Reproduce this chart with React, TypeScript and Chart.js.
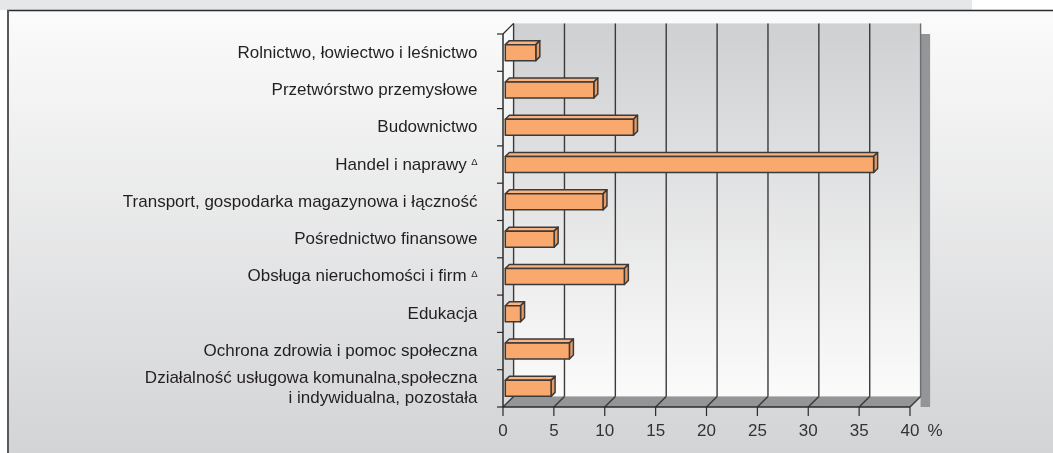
import React, { useEffect, useRef } from "react";
import { Chart, registerables } from "chart.js";

Chart.register(...registerables);

// ---- data ----
const CATEGORIES: (string | string[])[] = [
  "Rolnictwo, łowiectwo i leśnictwo",
  "Przetwórstwo przemysłowe",
  "Budownictwo",
  "Handel i naprawy",
  "Transport, gospodarka magazynowa i łączność",
  "Pośrednictwo finansowe",
  "Obsługa nieruchomości i firm",
  "Edukacja",
  "Ochrona zdrowia i pomoc społeczna",
  ["Działalność usługowa komunalna,społeczna", "i indywidualna, pozostała"],
];
const MARKED: boolean[] = [false, false, false, true, false, false, true, false, false, false];
const VALUES: number[] = [3.0, 8.7, 12.6, 36.2, 9.6, 4.8, 11.7, 1.5, 6.3, 4.5];
const X_TICKS: number[] = [0, 5, 10, 15, 20, 25, 30, 35, 40];
const X_UNIT = "%";
const MARK = "Δ";

// ---- styling ----
const W = 1053;
const H = 453;
const DEPTH = 10.6;
const BAR_INSET = 2.3;
const BAR_DEPTH = 4;
const FONT = '"Liberation Sans", Arial, Helvetica, sans-serif';

const decor = {
  id: "decor",
  beforeDraw(chart: any) {
    const ctx: CanvasRenderingContext2D = chart.ctx;
    const { left, right, top, bottom } = chart.chartArea;
    const d = DEPTH;
    const bl = left + d, br = right + d, bt = top - d, bb = bottom - d;
    ctx.save();
    ctx.fillStyle = "#ffffff";
    ctx.fillRect(0, 0, W, H);
    ctx.fillStyle = "#e6e7e8";
    ctx.fillRect(0, 0, 972, 10);
    const g = ctx.createLinearGradient(0, 10, 0, H);
    g.addColorStop(0, "#fbfbfb");
    g.addColorStop(1, "#d3d4d6");
    ctx.fillStyle = g;
    ctx.fillRect(7, 10, W - 7, H - 10);
    ctx.strokeStyle = "#2b2b2b";
    ctx.lineWidth = 1.5;
    ctx.beginPath();
    ctx.moveTo(7, 10.5);
    ctx.lineTo(W, 10.5);
    ctx.stroke();
    ctx.strokeStyle = "#58595b";
    ctx.lineWidth = 2;
    ctx.beginPath();
    ctx.moveTo(8, 10);
    ctx.lineTo(8, H);
    ctx.stroke();

    // shadow
    ctx.fillStyle = "#939598";
    ctx.fillRect(br, bt + d, 9.5, bottom - (bt + d));
    // back wall
    const wg = ctx.createLinearGradient(0, bt, 0, bb);
    wg.addColorStop(0, "#cfd0d2");
    wg.addColorStop(1, "#fbfbfb");
    ctx.fillStyle = wg;
    ctx.fillRect(bl, bt, br - bl, bb - bt);
    // floor
    ctx.fillStyle = "#939598";
    ctx.beginPath();
    ctx.moveTo(left, bottom);
    ctx.lineTo(right, bottom);
    ctx.lineTo(br, bb);
    ctx.lineTo(bl, bb);
    ctx.closePath();
    ctx.fill();

    const xs = chart.scales.x;
    // grid lines on wall and floor
    ctx.lineWidth = 1.4;
    X_TICKS.forEach((v, i) => {
      const px = xs.getPixelForValue(v);
      ctx.strokeStyle = i === X_TICKS.length - 1 ? "#6d6e70" : "#3a3a3a";
      ctx.beginPath();
      ctx.moveTo(px + d, bt);
      ctx.lineTo(px + d, bb);
      ctx.stroke();
      ctx.strokeStyle = "#3a3a3a";
      ctx.beginPath();
      ctx.moveTo(px + d, bb);
      ctx.lineTo(px, bottom);
      ctx.stroke();
    });
    // top-left slant
    ctx.strokeStyle = "#2b2b2b";
    ctx.lineWidth = 1.2;
    ctx.beginPath();
    ctx.moveTo(left, top);
    ctx.lineTo(bl, bt);
    ctx.stroke();

    // y axis
    ctx.lineWidth = 1.5;
    ctx.beginPath();
    ctx.moveTo(left, top);
    ctx.lineTo(left, bottom);
    ctx.stroke();
    const ys = chart.scales.y;
    const n = CATEGORIES.length;
    const step = ys.getPixelForValue(1) - ys.getPixelForValue(0);
    ctx.lineWidth = 1.2;
    for (let i = 0; i <= n; i++) {
      const y = ys.getPixelForValue(0) - step / 2 + i * step;
      ctx.beginPath();
      ctx.moveTo(left - 6, y);
      ctx.lineTo(left, y);
      ctx.stroke();
    }
    // x axis
    ctx.lineWidth = 1.5;
    ctx.beginPath();
    ctx.moveTo(left, bottom);
    ctx.lineTo(right, bottom);
    ctx.stroke();
    ctx.lineWidth = 1.2;
    ctx.fillStyle = "#333333";
    ctx.font = `17px ${FONT}`;
    ctx.textAlign = "center";
    ctx.textBaseline = "alphabetic";
    X_TICKS.forEach((v) => {
      const px = xs.getPixelForValue(v);
      ctx.strokeStyle = "#2b2b2b";
      ctx.beginPath();
      ctx.moveTo(px, bottom);
      ctx.lineTo(px, bottom + 9);
      ctx.stroke();
      ctx.fillText(String(v), px, bottom + 29);
    });
    ctx.fillText(X_UNIT, right + 25, bottom + 29);
    ctx.restore();
  },
  afterDatasetsDraw(chart: any) {
    const ctx: CanvasRenderingContext2D = chart.ctx;
    const meta = chart.getDatasetMeta(0);
    const bd = BAR_DEPTH;
    ctx.save();
    ctx.lineJoin = "round";
    ctx.strokeStyle = "#3a3a3a";
    ctx.lineWidth = 1.5;
    meta.data.forEach((el: any) => {
      const p = el.getProps(["x", "y", "base", "height"], true);
      const l = p.base + BAR_INSET;
      const r = p.x + BAR_INSET;
      const t = p.y - p.height / 2;
      const b = p.y + p.height / 2;
      // top face
      ctx.fillStyle = "#fab27f";
      ctx.beginPath();
      ctx.moveTo(l, t);
      ctx.lineTo(l + bd, t - bd);
      ctx.lineTo(r + bd, t - bd);
      ctx.lineTo(r, t);
      ctx.closePath();
      ctx.fill();
      ctx.stroke();
      // side face
      ctx.fillStyle = "#ea9b63";
      ctx.beginPath();
      ctx.moveTo(r, t);
      ctx.lineTo(r + bd, t - bd);
      ctx.lineTo(r + bd, b - bd);
      ctx.lineTo(r, b);
      ctx.closePath();
      ctx.fill();
      ctx.stroke();
      // front face
      ctx.fillStyle = "#f9a86e";
      ctx.fillRect(l, t, r - l, b - t);
      ctx.strokeRect(l, t, r - l, b - t);
    });
    ctx.restore();
  },
  afterDraw(chart: any) {
    const ctx: CanvasRenderingContext2D = chart.ctx;
    const { left } = chart.chartArea;
    const ys = chart.scales.y;
    const rightX = left - 25.5;
    ctx.save();
    ctx.fillStyle = "#231f20";
    ctx.textBaseline = "alphabetic";
    CATEGORIES.forEach((cat, i) => {
      const lines = Array.isArray(cat) ? cat : [cat];
      const cy = ys.getPixelForValue(i);
      lines.forEach((line, j) => {
        const base = cy + 5 + (j - (lines.length - 1) / 2) * 20;
        ctx.font = `17px ${FONT}`;
        const w1 = ctx.measureText(line).width;
        let w2 = 0;
        const gap = 4.5;
        if (MARKED[i] && j === lines.length - 1) {
          ctx.font = `9.5px ${FONT}`;
          w2 = ctx.measureText(MARK).width + gap;
        }
        const x0 = rightX - w1 - w2;
        ctx.font = `17px ${FONT}`;
        ctx.textAlign = "left";
        ctx.fillText(line, x0, base);
        if (w2 > 0) {
          ctx.font = `9.5px ${FONT}`;
          ctx.fillText(MARK, x0 + w1 + gap, base - 4.5);
        }
      });
    });
    ctx.restore();
  },
};

export default function App() {
  const ref = useRef<HTMLCanvasElement | null>(null);
  useEffect(() => {
    if (!ref.current) return;
    const chart = new Chart(ref.current, {
      type: "bar",
      data: {
        labels: CATEGORIES.map((c) => (Array.isArray(c) ? c.join(" ") : c)),
        datasets: [
          {
            data: VALUES,
            backgroundColor: "rgba(0,0,0,0)",
            borderWidth: 0,
            barThickness: 16,
          },
        ],
      },
      options: {
        indexAxis: "y",
        responsive: false,
        devicePixelRatio: 1,
        animation: false,
        layout: { padding: { left: 503, right: 143, top: 34, bottom: 46 } },
        scales: {
          x: { type: "linear", min: 0, max: 40, display: false },
          y: { type: "category", display: false, offset: true },
        },
        plugins: {
          legend: { display: false },
          tooltip: { enabled: false },
        },
      },
      plugins: [decor],
    });
    return () => chart.destroy();
  }, []);
  return (
    <div style={{ position: "fixed", left: 0, top: 0, width: W, height: H }}>
      <canvas ref={ref} width={W} height={H} style={{ display: "block" }} />
    </div>
  );
}
